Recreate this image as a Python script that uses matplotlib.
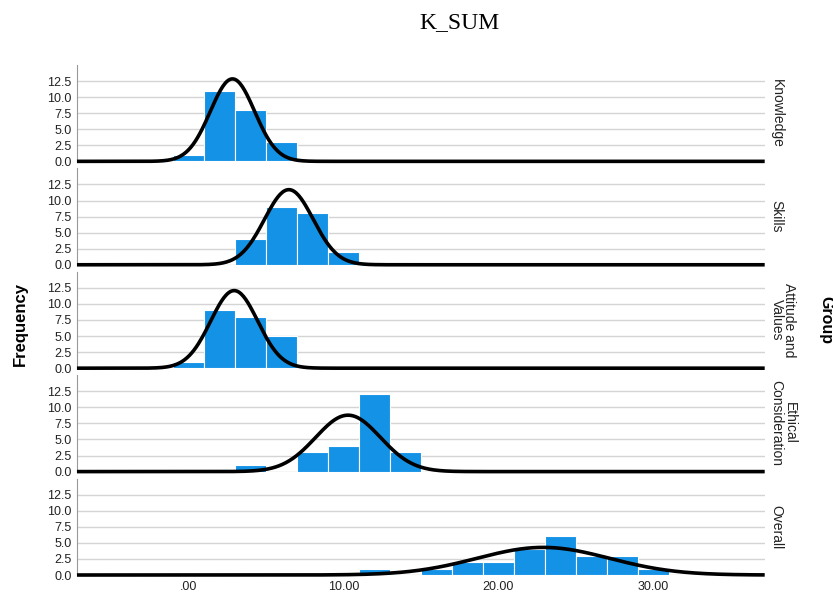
import matplotlib.pyplot as plt
import numpy as np

groups = ["Knowledge", "Skills", "Attitude and\nValues", "Ethical\nConsideration", "Overall"]

# left edge of each bar (bin width 2) and its count
bin_left = [
    [-1, 1, 3, 5],
    [3, 5, 7, 9],
    [-1, 1, 3, 5],
    [3, 7, 9, 11, 13],
    [11, 15, 17, 19, 21, 23, 25, 27, 29],
]
counts = [
    [1, 11, 8, 3],
    [4, 9, 8, 2],
    [1, 9, 8, 5],
    [1, 3, 4, 12, 3],
    [1, 1, 2, 2, 4, 6, 3, 3, 1],
]
# fitted normal curve per group: mean, std
means = [2.84, 6.48, 2.95, 10.3, 22.9]
stds = [1.43, 1.57, 1.52, 2.09, 4.27]
bin_w = 2

xticks = [0, 10, 20, 30]
xticklabels = [".00", "10.00", "20.00", "30.00"]
yticks = [0, 2.5, 5, 7.5, 10, 12.5]

plt.rcParams['font.family'] = ['Liberation Sans', 'DejaVu Sans']

fig, axes = plt.subplots(5, 1, sharex=True, figsize=(8.33, 5.95), dpi=100)
fig.subplots_adjust(left=0.0924, right=0.918, top=0.8908, bottom=0.0336, hspace=0.073)

xs = np.linspace(-7.2, 37.2, 600)
for ax, name, left, cnt, mu, sd in zip(axes, groups, bin_left, counts, means, stds):
    n = sum(cnt)
    ax.bar(left, cnt, width=bin_w, align='edge', color='#1492e6', edgecolor='white', linewidth=0.8, zorder=2)
    pdf = n * bin_w * np.exp(-0.5 * ((xs - mu) / sd) ** 2) / (sd * np.sqrt(2 * np.pi))
    ax.plot(xs, pdf, color='black', lw=2.6, zorder=3, clip_on=False, solid_capstyle='butt')
    ax.set_xlim(-7.2, 37.2)
    ax.set_ylim(0, 15)
    ax.set_yticks(yticks)
    ax.set_yticklabels(["%.1f" % v for v in yticks], fontsize=9, color='#222222')
    ax.yaxis.grid(True, color='#d4d4d4', lw=1)
    ax.set_axisbelow(True)
    for s in ['top', 'right', 'bottom']:
        ax.spines[s].set_visible(False)
    ax.spines['left'].set_color('#999999')
    ax.tick_params(axis='y', length=0, pad=4)
    ax.tick_params(axis='x', length=0, pad=4)
    ax.text(1.007, 0.5, name, transform=ax.transAxes, rotation=-90, ha='left', va='center',
            fontsize=10, linespacing=0.9, multialignment='center', color='#222222')

axes[-1].set_xticks(xticks)
axes[-1].set_xticklabels(xticklabels, fontsize=9, color='#222222')

fig.text(0.552, 0.962, "K_SUM", family='Liberation Serif', fontsize=17, ha='center', va='center')
fig.text(0.025, 0.455, "Frequency", rotation=90, fontsize=12, fontweight='bold', ha='center', va='center')
fig.text(0.991, 0.462, "Group", rotation=-90, fontsize=11.5, fontweight='bold', ha='center', va='center')

plt.savefig("out.png")
